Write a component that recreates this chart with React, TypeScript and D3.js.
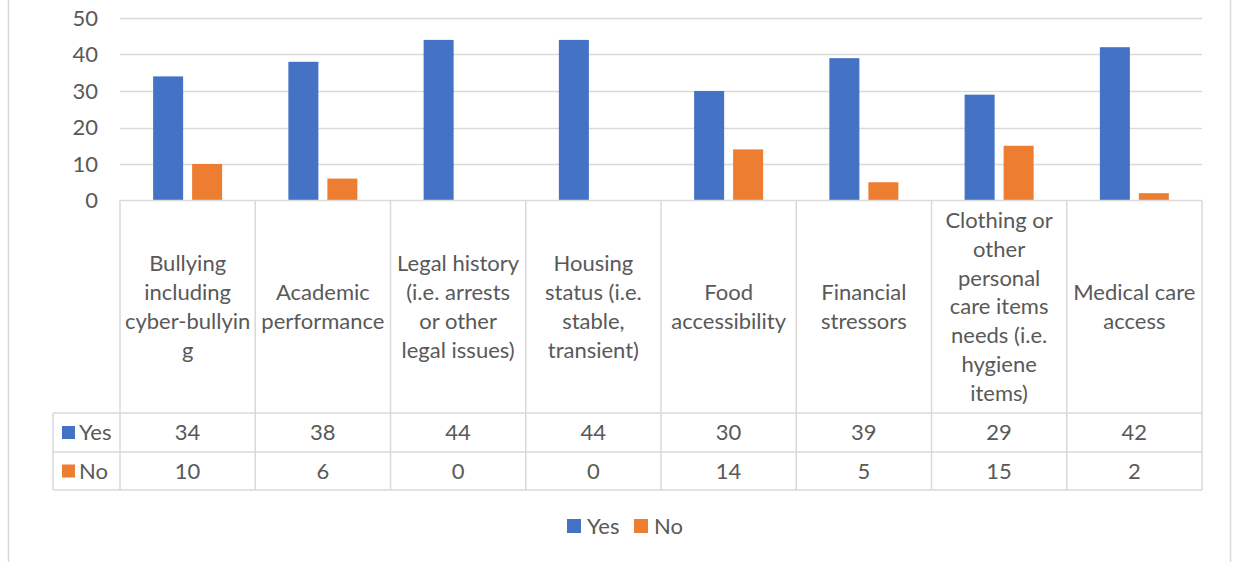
import React from "react";
import * as d3 from "d3";

const categories = [
  "Bullying including cyber-bullying",
  "Academic performance",
  "Legal history (i.e. arrests or other legal issues)",
  "Housing status (i.e. stable, transient)",
  "Food accessibility",
  "Financial stressors",
  "Clothing or other personal care items needs (i.e. hygiene items)",
  "Medical care access",
];
const categoryLines = [
  ["Bullying", "including", "cyber-bullyin", "g"],
  ["Academic", "performance"],
  ["Legal history", "(i.e. arrests", "or other", "legal issues)"],
  ["Housing", "status (i.e.", "stable,", "transient)"],
  ["Food", "accessibility"],
  ["Financial", "stressors"],
  ["Clothing or", "other", "personal", "care items", "needs (i.e.", "hygiene", "items)"],
  ["Medical care", "access"],
];
const seriesNames = ["Yes", "No"];
const yesValues = [34, 38, 44, 44, 30, 39, 29, 42];
const noValues = [10, 6, 0, 0, 14, 5, 15, 2];
const yTicks = [0, 10, 20, 30, 40, 50];

const COLORS = ["#4472C4", "#ED7D31"];
const GRID = "#D9D9D9";
const TEXT = "#595959";
const FONT = "Lato, 'Open Sans', sans-serif";

export default function App() {
  const W = 1233, H = 562;
  const left = 120, right = 1202;
  const y = d3.scaleLinear().domain([0, 50]).range([200.5, 18]);
  const x = d3.scaleBand<number>().domain(d3.range(categories.length)).range([left, right]);
  const bw = 30, gap = 9;
  const series = [yesValues, noValues];
  const headerTop = 200.5, headerBottom = 413, row1Bottom = 452, row2Bottom = 490;
  const tableLeft = 53;
  const lineH = 28.8;
  const fs = 22;

  return (
    <svg width={W} height={H} style={{ position: "absolute", left: 0, top: 0, background: "#fff" }} fontFamily={FONT}>
      <rect x={8.5} y={-5} width={1222} height={H + 10} fill="none" stroke={GRID} strokeWidth={1.5} />
      {yTicks.slice(1).map((t) => (
        <line key={t} x1={left} x2={right} y1={Math.round(y(t)) + 0.5} y2={Math.round(y(t)) + 0.5} stroke={GRID} strokeWidth={1.5} />
      ))}
      {yTicks.map((t) => (
        <text key={t} x={98} y={y(t)} dy="0.35em" textAnchor="end" fontSize={fs} fill={TEXT}>{t}</text>
      ))}
      {categories.map((c, i) => {
        const cx = (x(i) as number) + x.bandwidth() / 2;
        const start = cx - (2 * bw + gap) / 2;
        return series.map((vals, s) => (
          <rect key={c + s} x={start + s * (bw + gap)} y={y(vals[i])} width={bw} height={y(0) - y(vals[i])} fill={COLORS[s]} />
        ));
      })}
      {/* table */}
      <line x1={left} x2={right} y1={headerTop} y2={headerTop} stroke={GRID} strokeWidth={1.5} />
      {[headerBottom, row1Bottom, row2Bottom].map((yy) => (
        <line key={yy} x1={tableLeft} x2={right} y1={yy} y2={yy} stroke={GRID} strokeWidth={1.5} />
      ))}
      <line x1={tableLeft} x2={tableLeft} y1={headerBottom} y2={row2Bottom} stroke={GRID} strokeWidth={1.5} />
      {d3.range(categories.length + 1).map((i) => {
        const xx = i < categories.length ? (x(i) as number) : right;
        return <line key={i} x1={xx} x2={xx} y1={headerTop} y2={row2Bottom} stroke={GRID} strokeWidth={1.5} />;
      })}
      {categoryLines.map((lines, i) => {
        const cx = (x(i) as number) + x.bandwidth() / 2;
        const mid = (headerTop + headerBottom) / 2;
        const first = mid - ((lines.length - 1) * lineH) / 2;
        return (
          <text key={i} textAnchor="middle" fontSize={fs} fill={TEXT}>
            {lines.map((l, k) => (
              <tspan key={k} x={cx} y={first + k * lineH} dy="0.35em">{l}</tspan>
            ))}
          </text>
        );
      })}
      {series.map((vals, s) => {
        const top = s === 0 ? headerBottom : row1Bottom;
        const bottom = s === 0 ? row1Bottom : row2Bottom;
        const my = (top + bottom) / 2;
        return (
          <g key={s}>
            <rect x={62} y={my - 6.5} width={13} height={13} fill={COLORS[s]} />
            <text x={79} y={my} dy="0.35em" fontSize={fs} fill={TEXT}>{seriesNames[s]}</text>
            {vals.map((v, i) => (
              <text key={i} x={(x(i) as number) + x.bandwidth() / 2} y={my} dy="0.35em" textAnchor="middle" fontSize={fs} fill={TEXT}>{v}</text>
            ))}
          </g>
        );
      })}
      {/* legend */}
      <rect x={567} y={519} width={14} height={14} fill={COLORS[0]} />
      <text x={587} y={526} dy="0.35em" fontSize={fs} fill={TEXT}>{seriesNames[0]}</text>
      <rect x={634} y={519} width={14} height={14} fill={COLORS[1]} />
      <text x={654} y={526} dy="0.35em" fontSize={fs} fill={TEXT}>{seriesNames[1]}</text>
    </svg>
  );
}
